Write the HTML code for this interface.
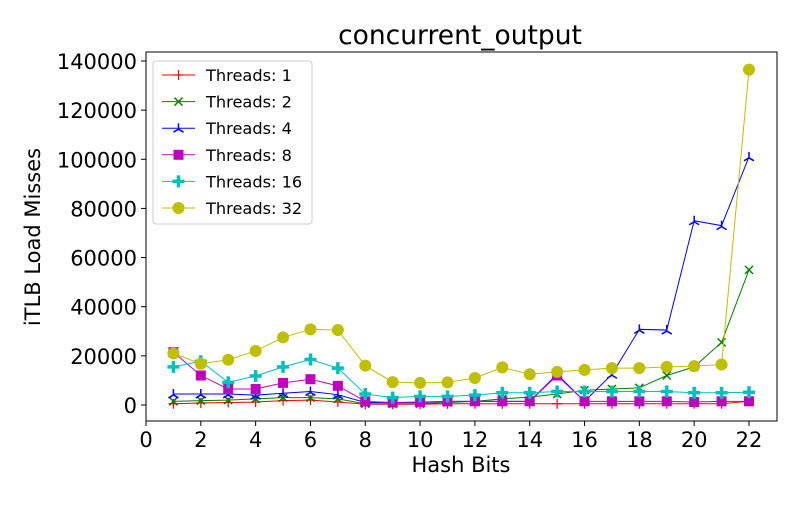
<!DOCTYPE html>
<html><head><meta charset="utf-8"><style>
body{margin:0;background:#fff;}
svg text{font-family:"DejaVu Sans","Liberation Sans",sans-serif;}
</style></head><body>
<svg id="c" width="800" height="500" xmlns="http://www.w3.org/2000/svg"></svg>
<script>
const xVals=[1,2,3,4,5,6,7,8,9,10,11,12,13,14,15,16,17,18,19,20,21,22];
const t1=[500,800,1000,1200,1800,2000,1200,300,300,300,500,500,500,500,500,500,500,500,500,500,500,1500];
const t2=[1500,1800,2000,2500,3000,3000,2500,500,500,500,1000,1500,2500,3200,4500,6000,6500,7000,12000,15500,25500,55000];
const t4=[4500,4500,4500,4000,4800,5500,4200,1000,1000,1000,1500,1500,1500,1500,12500,1500,12500,30800,30500,75000,73000,101000];
const t8=[21500,12000,6500,6500,9000,10500,7800,1500,1000,1200,1500,1500,1500,1500,12000,1500,1500,1500,1500,1200,1500,1500];
const t16=[15500,17800,9200,11800,15500,18500,15000,4500,3000,3500,3500,4000,5000,5000,5500,5500,5500,5500,5500,5000,5000,5200];
const t32=[21000,16800,18400,22000,27500,30800,30500,16000,9300,9000,9200,11000,15300,12500,13500,14300,15000,15000,15500,15800,16500,136500];
const xTicks=[0,2,4,6,8,10,12,14,16,18,20,22];
const yTicks=[0,20000,40000,60000,80000,100000,120000,140000];
const labels=["Threads: 1","Threads: 2","Threads: 4","Threads: 8","Threads: 16","Threads: 32"];
const NS="http://www.w3.org/2000/svg";
const svg=document.getElementById('c');
const X=v=>146+v*(749-146)/22;
const Y=v=>405-v*(405-61)/140000;
function el(t,a,p){const e=document.createElementNS(NS,t);for(const k in a)e.setAttribute(k,a[k]);(p||svg).appendChild(e);return e;}
const frame=el('rect',{x:146,y:52,width:631,height:369,fill:'none',stroke:'#000','stroke-width':1});


const title=el('text',{x:460,y:44,'text-anchor':'middle','font-size':26.5});title.textContent='concurrent_output';


xTicks.forEach(v=>{el('line',{x1:X(v),x2:X(v),y1:421,y2:426,stroke:'#000'});
 const t=el('text',{x:X(v),y:447,'text-anchor':'middle','font-size':21});t.textContent=v;
 
 });
yTicks.forEach(v=>{el('line',{x1:141,x2:146,y1:Y(v),y2:Y(v),stroke:'#000'});
 const t=el('text',{x:137,y:Y(v)+8,'text-anchor':'end','font-size':21});t.textContent=v;
 
 });
const xt=el('text',{x:461,y:472,'text-anchor':'middle','font-size':21});xt.textContent='Hash Bits';


const yt=el('text',{x:40,y:237,'text-anchor':'middle','font-size':21,transform:'rotate(-90 40 237)'});yt.textContent='iTLB Load Misses';


const series=[[t1,'#ff0000','plus'],[t2,'#008000','x'],[t4,'#0000ff','tri'],[t8,'#bf00bf','sq'],[t16,'#00bfbf','P'],[t32,'#bfbf00','o']];
function marker(g,m,x,y,c){
 if(m==='plus'){el('path',{d:`M${x-5} ${y}H${x+5}M${x} ${y-5}V${y+5}`,stroke:c,'stroke-width':1.2},g);}
 else if(m==='x'){el('path',{d:`M${x-4} ${y-4}L${x+4} ${y+4}M${x-4} ${y+4}L${x+4} ${y-4}`,stroke:c,'stroke-width':1.5},g);}
 else if(m==='tri'){el('path',{d:`M${x} ${y-5}V${y+1}M${x} ${y+1}L${x-5} ${y+4}M${x} ${y+1}L${x+5} ${y+4}`,stroke:c,'stroke-width':1.5},g);}
 else if(m==='sq'){el('rect',{x:x-5,y:y-5,width:10,height:10,fill:c},g);}
 else if(m==='P'){el('path',{d:`M${x-6} ${y}H${x+6}M${x} ${y-6}V${y+6}`,stroke:c,'stroke-width':3.5},g);}
 else {el('circle',{cx:x,cy:y,r:6,fill:c},g);}
}
series.forEach((s,i)=>{
 const g=el('g',{});
 
 
 el('polyline',{points:xVals.map((x,j)=>X(x)+','+Y(s[0][j])).join(' '),fill:'none',stroke:s[1],'stroke-width':1},g);
 xVals.forEach((x,j)=>marker(g,s[2],X(x),Y(s[0][j]),s[1]));
});
const lg=el('g',{});


el('rect',{x:153,y:61,width:159,height:163,rx:3,fill:'#fff',stroke:'#ccc'},lg);
series.forEach((s,i)=>{
 const y=75+i*26.6;
 const e=el('g',{},lg);
 
 
 el('line',{x1:162,x2:195,y1:y,y2:y,stroke:s[1]},e);
 marker(e,s[2],178.5,y,s[1]);
 const t=el('text',{x:206,y:y+6,'font-size':16.2},e);t.textContent=labels[i];
});
</script>
</body></html>
